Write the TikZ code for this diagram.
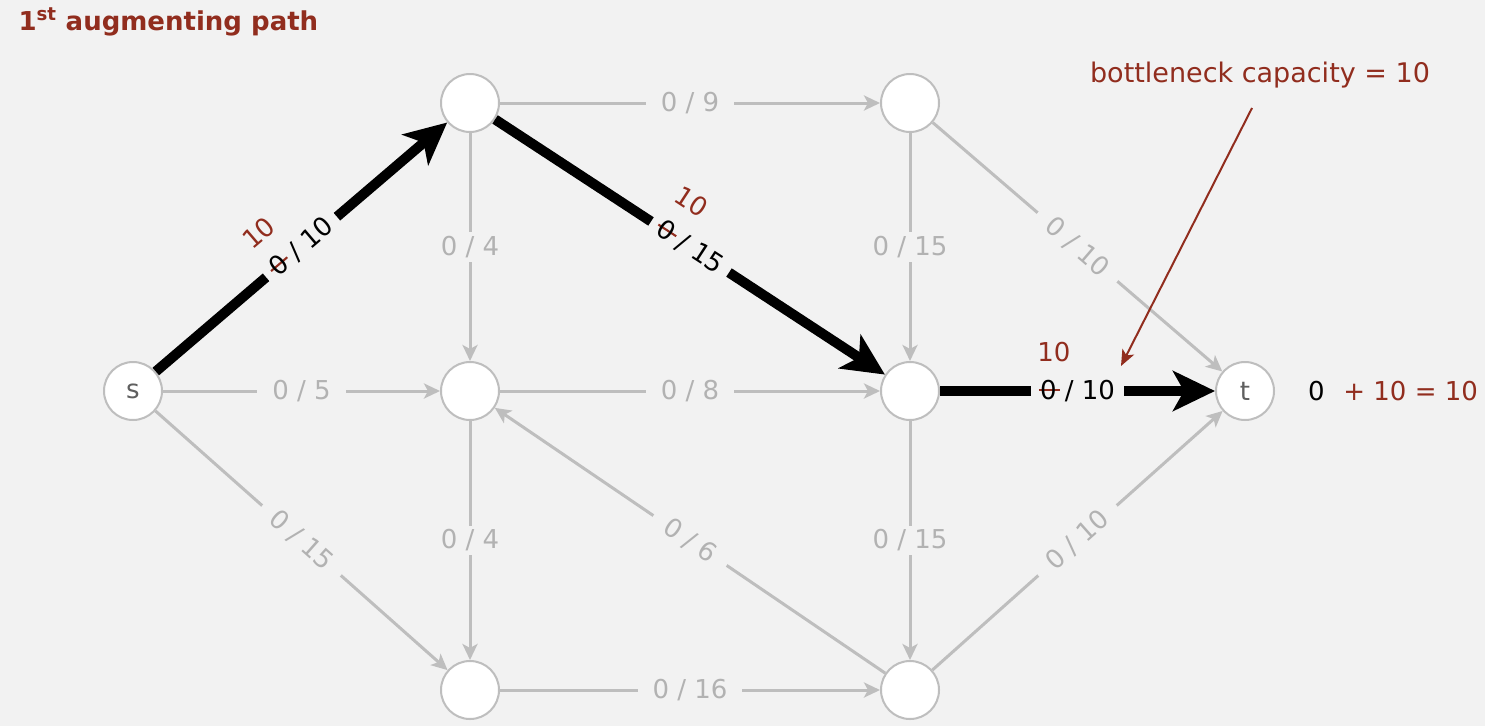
\documentclass[tikz,border=0pt]{standalone}
\usepackage{fontspec}
\setmainfont{DejaVu Sans}
\usetikzlibrary{arrows.meta,positioning}

\definecolor{bgcol}{RGB}{242,242,242}
\definecolor{edgegray}{RGB}{190,190,190}
\definecolor{labelgray}{RGB}{178,178,178}
\definecolor{flowred}{RGB}{145,45,30}
\definecolor{vtxtext}{RGB}{95,95,95}

% old flow struck out, new flow written above it
\newcommand{\chg}[2]{\rlap{\smash{\kern-0.1em\raisebox{1.45em}{\textcolor{flowred}{#2}}}}%
  \rlap{\kern-0.05em\textcolor{flowred}{\rule[0.34em]{0.82em}{0.08em}}}#1}

\begin{document}
\begin{tikzpicture} [
                x=1pt, y=-1pt,
                font=\fontsize{26}{31}\selectfont,
                vertex/.style = {circle,draw=edgegray,line width=2pt,fill=white,
                                 minimum size=58pt,inner sep=0pt,text=vtxtext},
                edge/.style = {draw,edgegray,line width=3pt,
                               -{Stealth[length=16pt,width=15pt,inset=4pt]}},
                weight/.style = {fill=bgcol,text=labelgray,inner xsep=15pt,inner ysep=4pt},
                selected edge/.style = {draw,black,line width=10pt,
                                        -{Stealth[length=42pt,width=40pt,inset=11pt]}},
                selected weight/.style = {weight,text=black,inner xsep=9pt},
                bottleneck edge/.style = {draw,flowred,line width=2pt,
                                          -{Stealth[length=16pt,width=13pt,inset=4pt]}}
            ]
            \path[use as bounding box,fill=bgcol] (0,0) rectangle (1485,726);
            % title
            \node[anchor=base west,text=flowred,font=\fontsize{26}{31}\selectfont\bfseries]
                (title) at (15,30) {1\textsuperscript{st} augmenting path};
            % First we draw the vertices
            \foreach \pos/\name/\lab in {
                {(133,391)/s/s}, {(470,103)/a/}, {(910,103)/b/}, {(470,391)/c/},
                {(910,391)/d/}, {(1245,391)/t/t}, {(470,690)/e/}, {(910,690)/f/}}
                \node[vertex] (\name) at \pos {\lab};
            % Connect vertices with edges and draw capacities
            \foreach \source/\dest/\cap/\opt in {s/c/5/, s/e/15/sloped, a/b/9/, a/c/4/,
                                                 b/d/15/, b/t/10/sloped, c/d/8/, c/e/4/,
                                                 f/c/6/sloped, d/f/15/, f/t/10/sloped, e/f/16/}
                \path[edge] (\source) -- node[weight,\opt] {0 / \cap} (\dest);
            % the augmenting path
            \foreach \source/\dest/\cap in {s/a/10, a/d/15, d/t/10}
                \path[selected edge] (\source) -- node[selected weight,sloped] {\chg{0}{10} / \cap} (\dest);
            % bottleneck note
            \node[anchor=base,text=flowred,font=\fontsize{27}{32}\selectfont]
                (bneck) at (1260,82) {bottleneck capacity = 10};
            \coordinate (bneck tail) at (1252,108);
            \coordinate (bneck tip) at (1121,366);
            \path[bottleneck edge] (bneck tail) -- (bneck tip);
            \node[right=31pt of t,inner sep=2pt] (total) {0\hspace{0.4em} \textcolor{flowred}{+ 10 = 10}};
        \end{tikzpicture}
\end{document}
